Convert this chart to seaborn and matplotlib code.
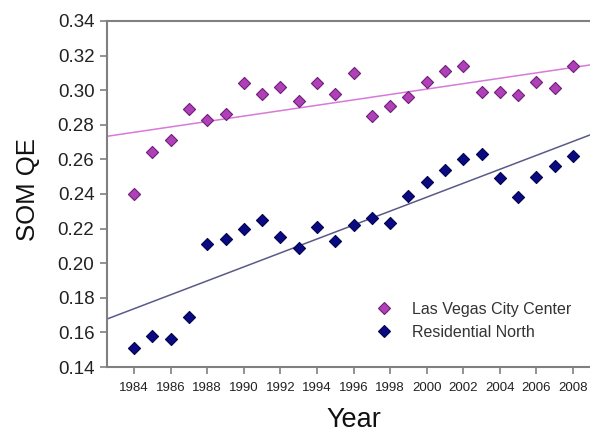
import matplotlib
matplotlib.use("Agg")
import matplotlib.pyplot as plt
from matplotlib.lines import Line2D
import seaborn as sns
import pandas as pd
import numpy as np

years = list(range(1984, 2009))
las_vegas = [0.240, 0.264, 0.271, 0.289, 0.283, 0.286, 0.304, 0.298, 0.302, 0.294,
             0.304, 0.298, 0.310, 0.285, 0.291, 0.296, 0.305, 0.311, 0.314, 0.299,
             0.299, 0.297, 0.305, 0.301, 0.314]
residential = [0.151, 0.158, 0.156, 0.169, 0.211, 0.214, 0.220, 0.225, 0.215, 0.209,
               0.221, 0.213, 0.222, 0.226, 0.223, 0.239, 0.247, 0.254, 0.260, 0.263,
               0.249, 0.238, 0.250, 0.256, 0.262]
series_names = ["Las Vegas City Center", "Residential North"]
x_ticks = list(range(1984, 2009, 2))
y_ticks = [0.14, 0.16, 0.18, 0.20, 0.22, 0.24, 0.26, 0.28, 0.30, 0.32, 0.34]

df = pd.DataFrame({"Year": years, series_names[0]: las_vegas, series_names[1]: residential})

sns.set_theme(style="white")
plt.rcParams['font.family'] = ['Liberation Sans', 'DejaVu Sans']

fig = plt.figure(figsize=(5.9, 4.34), dpi=100)
ax = fig.add_axes([107/590, 1 - 367/434, 1 - 107/590, (367 - 21)/434])
xlim = (1982.52, 2008.93)
ax.set_xlim(*xlim)
ax.set_ylim(0.14, 0.34)

styles = {
    series_names[0]: dict(fc="#B040B8", ec="#6E1E78", line="#D77AD9"),
    series_names[1]: dict(fc="#0A0A82", ec="#05054E", line="#5A5A88"),
}
handles = []
for name in series_names:
    st = styles[name]
    sns.regplot(data=df, x="Year", y=name, ax=ax, ci=None, truncate=False,
                marker="D",
                scatter_kws=dict(s=38, facecolor=st["fc"], edgecolor=st["ec"],
                                 linewidths=0.8, alpha=1, zorder=3),
                line_kws=dict(color=st["line"], lw=1.1, zorder=2))
    handles.append(Line2D([], [], ls="none", marker="D", markersize=6,
                          markerfacecolor=st["fc"], markeredgecolor=st["ec"],
                          markeredgewidth=0.8, label=name))
ax.set_xlim(*xlim)
ax.set_ylim(0.14, 0.34)

ax.set_xticks(x_ticks)
ax.set_xticklabels([str(t) for t in x_ticks], fontsize=9.5, color="#222222")
ax.set_yticks(y_ticks)
ax.set_yticklabels([f"{t:.2f}" for t in y_ticks], fontsize=13.5, color="#222222")
ax.tick_params(axis="both", direction="out", length=5, width=1.2, color="#808080",
               bottom=True, left=True)
ax.tick_params(axis="x", pad=6)
ax.tick_params(axis="y", pad=4)

for side in ["left", "bottom", "top"]:
    ax.spines[side].set_color("#808080")
    ax.spines[side].set_linewidth(1.5)
    ax.spines[side].set_visible(True)
ax.spines["right"].set_visible(False)

ax.set_xlabel("Year", fontsize=19.5, color="#111111")
ax.xaxis.set_label_coords((354 - 107) / 483, -(407 - 367) / 346)
ax.set_ylabel("SOM QE", fontsize=18.5, color="#111111")
ax.yaxis.set_label_coords(-(107 - 40) / 483, 0.5 + (194 - 190) / 346)

leg = ax.legend(handles=handles, loc="lower left", bbox_to_anchor=(0.535, 0.06),
                frameon=False, fontsize=11.5, handletextpad=1.0, labelspacing=0.5,
                borderaxespad=0, handlelength=1.5)
for t in leg.get_texts():
    t.set_color("#333333")

fig.savefig("out.png", dpi=100)
